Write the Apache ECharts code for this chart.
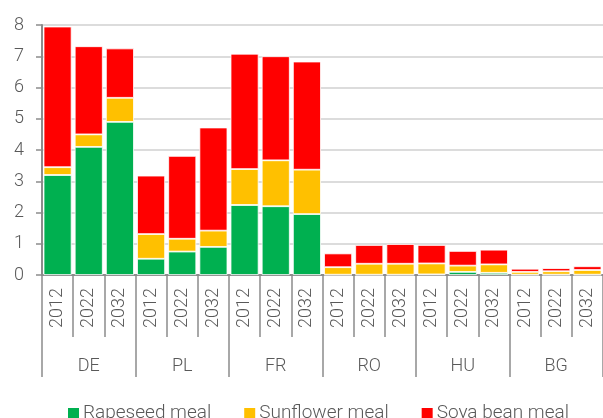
<!DOCTYPE html>
<html>
<head>
<meta charset="utf-8">
<script src="https://cdn.jsdelivr.net/npm/echarts@6/dist/echarts.min.js"></script>
<style>
  html, body { margin: 0; padding: 0; background: #fff; }
  #chart { width: 603px; height: 418px; }
</style>
</head>
<body>
<div id="chart"></div>
<script>
// data
const countries = ['DE', 'PL', 'FR', 'RO', 'HU', 'BG'];
const years = ['2012', '2022', '2032'];
const rapeseed  = [3.2, 4.1, 4.9,  0.52, 0.75, 0.9,  2.24, 2.2, 1.95,  0.01, 0.01, 0.01,  0.02, 0.1, 0.07,  0.01, 0.01, 0.01];
const sunflower = [0.25, 0.4, 0.77, 0.79, 0.41, 0.52, 1.15, 1.47, 1.42, 0.24, 0.35, 0.35, 0.35, 0.2, 0.27, 0.09, 0.11, 0.15];
const soyabean  = [4.5, 2.82, 1.58, 1.87, 2.65, 3.3, 3.69, 3.33, 3.46, 0.44, 0.6, 0.63, 0.59, 0.47, 0.47, 0.1, 0.1, 0.12];
const yTicks = [0, 8, 1]; // min, max, step

const cats = [];
countries.forEach(c => years.forEach(y => cats.push(y)));

const font = 'Roboto';
const grey = '#595959';
const lineGrey = '#8c8c8c';

let chart = echarts.init(document.getElementById('chart'));

function bar(name, data, color) {
  return {
    name: name,
    type: 'bar',
    stack: 'total',
    barWidth: 28,
    data: data,
    itemStyle: { color: color, borderColor: '#fff', borderWidth: 0.8 }
  };
}

chart.setOption({
  animation: false,
  textStyle: { fontFamily: font },
  grid: { left: 42, top: 25, width: 562, height: 250 },
  legend: {
    left: 66,
    top: 404,
    width: 560,
    padding: 0,
    itemWidth: 13,
    itemHeight: 13,
    itemGap: 31,
    icon: 'rect',
    textStyle: { fontSize: 19, color: grey, fontFamily: font, fontWeight: 300, padding: [0, 0, 0, -2] },
    data: ['Rapeseed meal', 'Sunflower meal', 'Soya bean meal']
  },
  xAxis: [{
    type: 'category',
    data: cats,
    position: 'bottom',
    axisLine: { lineStyle: { color: lineGrey, width: 2 } },
    axisTick: { show: true, interval: 0, length: 62, lineStyle: { color: lineGrey, width: 1.5 } },
    axisLabel: { interval: 0, rotate: 90, margin: 13, fontSize: 18, color: grey, fontWeight: 300 }
  }, {
    type: 'category',
    data: countries,
    position: 'bottom',
    axisLine: { show: false },
    axisTick: { show: true, interval: 0, length: 102, lineStyle: { color: lineGrey, width: 1.5 } },
    axisLabel: { interval: 0, margin: 82, fontSize: 18, color: grey, fontWeight: 300 }
  }],
  yAxis: {
    type: 'value',
    min: yTicks[0],
    max: yTicks[1],
    interval: yTicks[2],
    axisLine: { show: true, lineStyle: { color: lineGrey, width: 2 } },
    axisTick: { show: true, length: 6, lineStyle: { color: lineGrey, width: 1.5 } },
    axisLabel: { margin: 18, fontSize: 18, color: grey, fontWeight: 300 },
    splitLine: { lineStyle: { color: '#d0d0d0', width: 1.5 } }
  },
  series: [
    bar('Rapeseed meal', rapeseed, '#00B050'),
    bar('Sunflower meal', sunflower, '#FFC000'),
    bar('Soya bean meal', soyabean, '#FF0000')
  ]
});
</script>
</body>
</html>
